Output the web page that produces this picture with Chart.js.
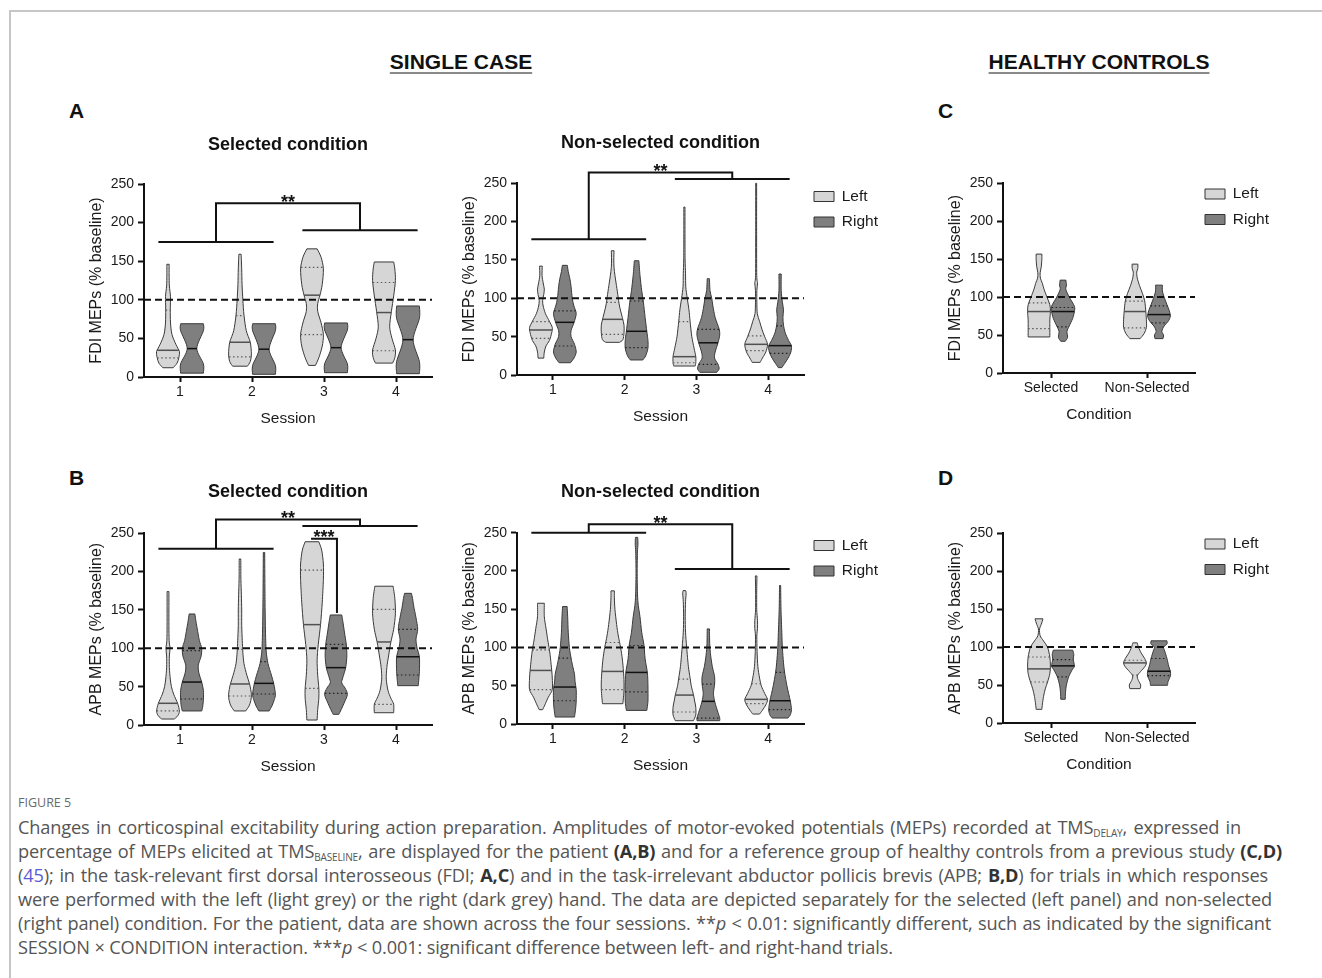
<!DOCTYPE html>
<html>
<head>
<meta charset="utf-8">
<script src="https://cdn.jsdelivr.net/npm/chart.js@4.4.1/dist/chart.umd.min.js"></script>
<style>
  body { margin: 0; background: #fff; }
  #page { position: relative; width: 1322px; height: 978px; overflow: hidden; font-family: "Liberation Sans", Arial, sans-serif; color: #111; }
  .frame-top { position: absolute; left: 9px; top: 10px; width: 1313px; border-top: 2px solid #c6c6c6; }
  .frame-left { position: absolute; left: 9px; top: 10px; height: 968px; border-left: 2px solid #c6c6c6; }
  .head { position: absolute; top: 50px; font-weight: bold; font-size: 21px; line-height: 24px; white-space: nowrap;
          transform: translateX(-50%); text-decoration: underline; text-decoration-thickness: 2px;
          text-underline-offset: 3px; text-decoration-color: #8a8a8a; }
  .letter { position: absolute; font-weight: bold; font-size: 21px; line-height: 24px; }
  canvas { position: absolute; }
  .fig { position: absolute; left: 18px; top: 794px; font-family: "Open Sans", sans-serif; font-size: 12.5px; color: #6a6a6a; }
  .cap { position: absolute; left: 18px; top: 815px; font-family: "Open Sans", sans-serif; font-size: 18.2px; line-height: 24px; color: #555; letter-spacing: -0.15px; }
  .cap div { white-space: nowrap; text-align: justify; text-align-last: justify; }
  .cap b { color: #333; }
  .cap sub { font-size: 10px; vertical-align: -3px; line-height: 0; }
  .cap a { color: #5b5bd6; text-decoration: none; }
</style>
</head>
<body>
<div id="page">
  <div class="frame-top"></div>
  <div class="frame-left"></div>

  <div class="head" style="left:461px">SINGLE CASE</div>
  <div class="head" style="left:1099px">HEALTHY CONTROLS</div>
  <div class="letter" style="left:69px;top:99px">A</div>
  <div class="letter" style="left:69px;top:466px">B</div>
  <div class="letter" style="left:938px;top:99px">C</div>
  <div class="letter" style="left:938px;top:466px">D</div>

  <canvas id="fdiSel" width="356" height="312" style="left:80px;top:120px"></canvas>
  <canvas id="fdiNon" width="431" height="310" style="left:453px;top:120px"></canvas>
  <canvas id="hcFdi" width="336" height="308" style="left:939px;top:120px"></canvas>
  <canvas id="apbSel" width="356" height="310" style="left:80px;top:470px"></canvas>
  <canvas id="apbNon" width="431" height="309" style="left:453px;top:470px"></canvas>
  <canvas id="hcApb" width="336" height="308" style="left:939px;top:470px"></canvas>

  <div class="fig">FIGURE 5</div>
  <div class="cap">
    <div style="width:1223px">Changes in corticospinal excitability during action preparation. Amplitudes of motor-evoked potentials (MEPs) recorded at TMS<sub>DELAY</sub>, expressed in</div>
    <div style="width:1264px">percentage of MEPs elicited at TMS<sub>BASELINE</sub>, are displayed for the patient <b>(A,B)</b> and for a reference group of healthy controls from a previous study <b>(C,D)</b></div>
    <div style="width:1250px">(<a>45</a>); in the task-relevant first dorsal interosseous (FDI; <b>A,C</b>) and in the task-irrelevant abductor pollicis brevis (APB; <b>B,D</b>) for trials in which responses</div>
    <div style="width:1254px">were performed with the left (light grey) or the right (dark grey) hand. The data are depicted separately for the selected (left panel) and non-selected</div>
    <div style="width:1253px">(right panel) condition. For the patient, data are shown across the four sessions. **<i>p</i> &lt; 0.01: significantly different, such as indicated by the significant</div>
    <div style="text-align:left;text-align-last:left">SESSION × CONDITION interaction. ***<i>p</i> &lt; 0.001: significant difference between left- and right-hand trials.</div>
  </div>
</div>

<script>
// categories
const sessions = ['1', '2', '3', '4'];
const conditions = ['Selected', 'Non-Selected'];

// violin outlines: [value, relative half-width] from bottom to top, one per category
// stats: [Q1, median, Q3] (null where no line is drawn)

// A - FDI, selected condition
const fdiSelLeft = [
  [[12,.45],[18,.8],[25,.95],[33,1],[42,.7],[55,.35],[70,.22],[88,.2],[104,.22],[118,.12],[132,.1],[146,.1]],
  [[14,.65],[20,.9],[30,1],[45,.9],[60,.55],[80,.35],[100,.25],[120,.18],[140,.15],[159,.1]],
  [[15,.3],[25,.6],[40,.9],[55,1],[70,.8],[85,.5],[95,.5],[106,.7],[120,.9],[140,1],[155,.8],[166,.45]],
  [[18,.75],[25,.95],[35,1],[50,.7],[65,.5],[85,.65],[105,.85],[125,1],[140,.95],[149,.85]]
];
const fdiSelRight = [
  [[5,1],[17,1],[37,.42],[60,1],[69,1]],
  [[3.5,1],[15,1],[36,.45],[60,1],[69,1]],
  [[5.6,1],[17,1],[38,.45],[61,1],[70,1]],
  [[4.3,1],[20,1],[48,.45],[76,1],[92,1]]
];
const fdiSelLeftStats = [[24.7,34.6,86.5],[26,45,79.6],[55,106,141.9],[34,83.5,122.4]];
const fdiSelRightStats = [[null,36.8,null],[null,36,null],[null,38,null],[null,48.4,null]];

// A - FDI, non-selected condition
const fdiNonLeft = [
  [[22,.25],[30,.3],[38,.45],[45,.75],[55,.95],[62,1],[70,.75],[80,.4],[90,.2],[97,.15],[105,.25],[112,.3],[120,.2],[130,.1],[142,.12]],
  [[42.6,.6],[46,.9],[55,1],[65,1],[75,.85],[90,.6],[105,.45],[120,.3],[130,.2],[140,.12],[150,.1],[162,.12]],
  [[11.7,.95],[16,1],[24,1],[35,.85],[50,.65],[70,.5],[85,.4],[100,.25],[115,.12],[132,.1],[150,.06],[180,.05],[219,.05]],
  [[16.5,.35],[22,.55],[30,.85],[40,1],[50,.75],[60,.5],[70,.3],[80,.1],[95,.06],[110,.06],[120,.12],[130,.05],[180,.04],[250,.04]]
];
const fdiNonRight = [
  [[16,.5],[22,.8],[30,1],[40,.85],[50,.55],[58,.55],[68,.8],[80,1],[90,.8],[100,.65],[115,.55],[125,.45],[135,.3],[143,.22]],
  [[19.6,.55],[25,.8],[35,1],[45,1],[57,.9],[75,.75],[95,.6],[110,.45],[130,.3],[149,.2]],
  [[3.5,.75],[8,.95],[14,.85],[22,.55],[30,.6],[42,.85],[52,1],[60,.95],[75,.6],[90,.4],[100,.3],[110,.15],[125.6,.1]],
  [[9.6,.15],[15,.4],[22,.7],[30,.95],[38,1],[45,.75],[55,.45],[65,.3],[75,.25],[85,.3],[95,.2],[110,.1],[131.7,.1]]
];
const fdiNonLeftStats = [[47.8,58.7,69.6],[53,72.6,94.8],[16,23.9,69.6],[31.7,40,51]];
const fdiNonRightStats = [[37.8,68.7,83.5],[35.7,57,96.5],[13.9,42,59.6],[28.3,38.3,64]];

// C - FDI, healthy controls
const hcFdiLeft = [
  [[47.5,.95],[60,.95],[70,.95],[81,1],[90,.95],[100,.7],[110,.45],[118,.3],[125,.12],[132,.1],[140,.2],[150,.25],[156.7,.25]],
  [[45.3,.45],[52,.8],[60,1],[70,1],[81,.95],[95,.85],[105,.65],[115,.4],[125,.2],[133,.15],[138,.25],[143.5,.25]]
];
const hcFdiRight = [
  [[41.8,.2],[47,.4],[55,.35],[62,.55],[72,.85],[81,1],[88,1],[100,.55],[110,.25],[116,.3],[122.4,.25]],
  [[45.3,.35],[50,.4],[55,.25],[62,.45],[68,.8],[75,1],[82,.9],[90,.7],[100,.45],[108,.3],[115.8,.3]]
];
const hcFdiLeftStats = [[58.5,81,92.4],[59.4,81,94.6]];
const hcFdiRightStats = [[60.7,81,86.3],[66,77,88.5]];

// B - APB, selected condition
const apbSelLeft = [
  [[7.8,.55],[12,.85],[18,1],[28,.85],[40,.5],[50,.3],[60,.2],[75,.12],[90,.12],[100,.18],[110,.1],[130,.08],[150,.08],[174,.08]],
  [[18.3,.5],[25,.8],[32,.95],[40,1],[53,.85],[65,.6],[80,.35],[95,.25],[110,.2],[130,.15],[150,.15],[170,.12],[190,.08],[216.5,.07]],
  [[6.5,.45],[20,.5],[35,.6],[48,.6],[65,.5],[85,.45],[105,.55],[131,.75],[160,.9],[190,1],[210,1],[228,.85],[239,.6]],
  [[16,.85],[27,.85],[35,.6],[45,.35],[60,.2],[75,.25],[90,.4],[108,.6],[125,.85],[145,1],[165,.95],[181,.8]]
];
const apbSelRight = [
  [[18.3,.85],[25,.95],[34,1],[45,1],[56,.85],[68,.6],[78,.55],[90,.8],[100,.85],[110,.65],[122,.5],[135,.35],[144.8,.25]],
  [[18.3,.45],[25,.7],[33,.9],[40,1],[54,.85],[65,.65],[80,.35],[95,.2],[110,.15],[130,.12],[150,.1],[180,.08],[225,.06]],
  [[13.9,.25],[20,.45],[30,.75],[40,1],[48,.8],[55,.5],[62,.6],[75,.85],[90,.95],[105,.9],[120,.75],[135,.6],[143.5,.5]],
  [[51.3,.9],[60,.95],[70,1],[89,1],[100,.8],[112,.7],[125,.85],[140,.7],[155,.5],[165,.4],[171.7,.3]]
];
const apbSelLeftStats = [[18.3,28.3,100],[37.8,53.5,98.7],[47.8,130.9,202],[27,108.3,150.9]];
const apbSelRightStats = [[33.9,56,97],[40.4,54.3,82.6],[41.3,74.8,105.2],[65.2,89,124.8]];

// B - APB, non-selected condition
const apbNonLeft = [
  [[18.7,.15],[25,.35],[35,.65],[45,1],[60,1],[70,.95],[85,.85],[97,.75],[110,.6],[125,.45],[140,.3],[157.8,.3]],
  [[26.5,.9],[35,.95],[45,1],[55,1],[69,.95],[85,.85],[100,.7],[115,.5],[130,.35],[150,.2],[165,.15],[174,.15]],
  [[4.3,.8],[12,1],[22,1],[30,.9],[38,.8],[50,.6],[60,.5],[75,.35],[100,.2],[120,.1],[140,.07],[160,.1],[170,.15],[174.3,.12]],
  [[13,.3],[18,.55],[25,.85],[32,1],[40,.75],[50,.45],[60,.3],[75,.15],[95,.08],[115,.06],[125,.12],[135,.12],[150,.05],[175,.05],[193.5,.07]]
];
const apbNonRight = [
  [[9.1,.85],[20,.95],[30,1],[45,1],[55,.9],[65,.85],[75,.7],[86,.55],[100,.4],[120,.3],[140,.25],[153.5,.2]],
  [[17.8,.9],[30,1],[50,1],[67,.95],[85,.75],[103,.65],[120,.45],[140,.3],[155,.15],[170,.08],[200,.05],[225,.08],[235,.12],[243.9,.1]],
  [[4.3,1],[8,1],[15,.85],[22,.7],[30,.55],[40,.45],[52,.55],[62,.55],[75,.35],[90,.2],[105,.12],[124.3,.1]],
  [[7.8,.7],[12,.9],[19,1],[30,.9],[40,.75],[50,.6],[67,.4],[80,.3],[100,.2],[120,.15],[150,.08],[181,.05]]
];
const apbNonLeftStats = [[44.8,70,97],[44.8,68.7,106.5],[15.7,37.8,58.7],[26.5,32.2,52.6]];
const apbNonRightStats = [[30.4,48.3,86],[42,67.4,102.6],[7.8,29.6,52.2],[18.7,30.4,67.4]];

// D - APB, healthy controls
const hcApbLeft = [
  [[18,.25],[25,.3],[35,.4],[45,.55],[54,.75],[65,.95],[75,1],[87,.95],[100,.75],[108,.4],[115,.1],[124,.05],[130,.2],[137.3,.35]],
  [[45.3,.45],[50,.5],[56,.3],[62,.2],[68,.5],[74,.85],[79,1],[85,.85],[92,.55],[100,.3],[105.6,.2]]
];
const hcApbRight = [
  [[31.3,.2],[40,.22],[50,.3],[61,.5],[70,.8],[75,1],[84,.9],[90,.95],[96,.85]],
  [[49.7,.75],[55,.8],[62,1],[68,1],[75,.85],[85,.7],[95,.5],[100,.4],[104,.7],[108.3,.7]]
];
const hcApbLeftStats = [[54,71.3,87],[63,79.2,82.7]];
const hcApbRightStats = [[60.7,75.3,83.6],[62.5,68.2,85]];

// significance brackets as polylines in [category index, value]
const fdiSelBrackets = [[[-0.3,175],[1.3,175]], [[1.7,190],[3.3,190]], [[0.5,175],[0.5,225],[2.5,225],[2.5,190]]];
const fdiSelStars = [[1.5,225,'**']];
const fdiNonBrackets = [[[-0.3,177],[1.3,177]], [[1.7,255.5],[3.3,255.5]], [[0.5,177],[0.5,264],[2.5,264],[2.5,255.5]]];
const fdiNonStars = [[1.5,264,'**']];
const apbSelBrackets = [[[-0.3,230],[1.3,230]], [[1.7,259.5],[3.3,259.5]], [[0.5,230],[0.5,268],[2.5,268],[2.5,259.5]],
                        [[1.82,243],[2.18,243],[2.18,146]]];
const apbSelStars = [[1.5,268,'**'], [2.0,243,'***']];
const apbNonBrackets = [[[-0.3,250],[1.3,250]], [[1.7,202.6],[3.3,202.6]], [[0.5,250],[0.5,261],[2.5,261],[2.5,202.6]]];
const apbNonStars = [[1.5,261,'**']];

const baseline = 100;
const LIGHT = '#d6d6d6';
const DARK = '#7f7f7f';

Chart.defaults.font.family = '"Liberation Sans", Arial, sans-serif';
Chart.defaults.color = '#1a1a1a';

function curveThrough(ctx, pts) {
  for (let i = 0; i < pts.length - 1; i++) {
    const p0 = pts[Math.max(i - 1, 0)], p1 = pts[i], p2 = pts[i + 1], p3 = pts[Math.min(i + 2, pts.length - 1)];
    ctx.bezierCurveTo(p1.x + (p2.x - p0.x) / 7, p1.y + (p2.y - p0.y) / 7,
                      p2.x - (p3.x - p1.x) / 7, p2.y - (p3.y - p1.y) / 7, p2.x, p2.y);
  }
}

function widthAt(prof, v) {
  for (let i = 0; i < prof.length - 1; i++) {
    const [a, wa] = prof[i], [b, wb] = prof[i + 1];
    if (v >= a && v <= b) return wa + (wb - wa) * (v - a) / (b - a);
  }
  return prof[v < prof[0][0] ? 0 : prof.length - 1][1];
}

const violinPlugin = {
  id: 'violins',
  beforeDatasetDraw() { return false; },
  afterDatasetsDraw(chart, args, opts) {
    const { ctx, chartArea, scales: { x, y } } = chart;
    ctx.save();
    chart.data.datasets.forEach((ds, d) => {
      const meta = chart.getDatasetMeta(d);
      meta.data.forEach((bar, i) => {
        const prof = ds.profiles[i];
        const cx = bar.x;
        const half = bar.width / 2 * opts.spread;
        const rightPts = prof.map(([v, w]) => ({ x: cx + w * half, y: y.getPixelForValue(v) }));
        const leftPts = prof.map(([v, w]) => ({ x: cx - w * half, y: y.getPixelForValue(v) })).reverse();
        ctx.beginPath();
        ctx.moveTo(rightPts[0].x, rightPts[0].y);
        curveThrough(ctx, rightPts);
        ctx.lineTo(leftPts[0].x, leftPts[0].y);
        curveThrough(ctx, leftPts);
        ctx.closePath();
        ctx.fillStyle = ds.backgroundColor;
        ctx.fill();
        ctx.setLineDash([]);
        ctx.lineWidth = 1;
        ctx.strokeStyle = '#3a3a3a';
        ctx.stroke();

        // quartiles dotted, median solid
        ds.stats[i].forEach((v, k) => {
          if (v === null) return;
          const w = widthAt(prof, v) * half;
          const py = y.getPixelForValue(v);
          ctx.beginPath();
          ctx.moveTo(cx - w, py);
          ctx.lineTo(cx + w, py);
          if (k === 1) {
            ctx.setLineDash([]);
            ctx.lineWidth = 1.5;
            ctx.strokeStyle = ds.medianColor;
          } else {
            ctx.setLineDash([1.5, 2.5]);
            ctx.lineWidth = 1.2;
            ctx.strokeStyle = ds.quartColor;
          }
          ctx.stroke();
        });
      });
    });

    // baseline reference
    ctx.setLineDash([7, 4]);
    ctx.lineWidth = 2;
    ctx.strokeStyle = '#111';
    ctx.beginPath();
    const yb = y.getPixelForValue(baseline);
    ctx.moveTo(chartArea.left, yb);
    ctx.lineTo(chartArea.right, yb);
    ctx.stroke();

    // significance brackets
    ctx.setLineDash([]);
    (opts.brackets || []).forEach(line => {
      ctx.beginPath();
      line.forEach(([c, v], k) => {
        const px = x.getPixelForValue(c), py = y.getPixelForValue(v);
        if (k === 0) ctx.moveTo(px, py); else ctx.lineTo(px, py);
      });
      ctx.stroke();
    });
    ctx.fillStyle = '#111';
    ctx.font = 'bold 18px "Liberation Sans", Arial, sans-serif';
    ctx.textAlign = 'center';
    ctx.textBaseline = 'alphabetic';
    (opts.stars || []).forEach(([c, v, txt]) => {
      ctx.fillText(txt, x.getPixelForValue(c), y.getPixelForValue(v) + 4.5);
    });
    ctx.restore();
  }
};

function violinChart(id, o) {
  const bounds = p => [p[0][0], p[p.length - 1][0]];
  return new Chart(document.getElementById(id), {
    type: 'bar',
    data: {
      labels: o.labels,
      datasets: [
        { label: 'Left', data: o.left.map(bounds), profiles: o.left, stats: o.leftStats,
          backgroundColor: LIGHT, borderColor: '#333', borderWidth: 1, medianColor: '#505050', quartColor: '#5a5a5a' },
        { label: 'Right', data: o.right.map(bounds), profiles: o.right, stats: o.rightStats,
          backgroundColor: DARK, borderColor: '#333', borderWidth: 1, medianColor: '#111', quartColor: '#222' }
      ]
    },
    options: {
      responsive: false,
      animation: false,
      events: [],
      datasets: { bar: { categoryPercentage: o.catPct, barPercentage: 1 } },
      layout: { padding: { right: o.legendTop ? 0 : 4 } },
      plugins: {
        tooltip: { enabled: false },
        title: {
          display: true, text: o.title, fullSize: false, color: '#111',
          font: { size: 18, weight: 'bold', lineHeight: 1.2 },
          padding: { top: o.titlePad[0], bottom: o.titlePad[1] }
        },
        legend: o.legendTop ? {
          display: true, position: 'right', align: 'start', maxWidth: 80,
          title: { display: true, text: '', font: { size: 10, lineHeight: 1.2 }, padding: { top: o.legendTop - 12, bottom: 0 } },
          labels: { boxWidth: 20, boxHeight: 10, padding: 10, color: '#1a1a1a', font: { size: 15.5 } }
        } : { display: false },
        violins: { spread: 0.95, brackets: o.brackets, stars: o.stars }
      },
      scales: {
        x: {
          afterFit: s => { s.height = 55; },
          grid: { offset: false, drawOnChartArea: false, tickLength: 5, tickWidth: 2, tickColor: '#111' },
          border: { color: '#111', width: 2 },
          ticks: { padding: 2, color: '#1a1a1a', font: { size: 14 } },
          title: { display: true, text: o.xTitle, color: '#1a1a1a', font: { size: 15.5 }, padding: { top: 0, bottom: 4.4 } }
        },
        y: {
          min: 0, max: 250,
          afterFit: s => { s.width = 64; },
          grid: { drawOnChartArea: false, tickLength: 6, tickWidth: 2, tickColor: '#111' },
          border: { color: '#111', width: 2 },
          ticks: { stepSize: 25, padding: 4, color: '#1a1a1a', font: { size: 14 },
                   callback: v => (v % 50 === 0 ? v : '') },
          title: { display: true, text: o.yTitle, color: '#1a1a1a', font: { size: 16 }, padding: { top: 7, bottom: 0 } }
        }
      }
    },
    plugins: [violinPlugin]
  });
}

violinChart('fdiSel', {
  labels: sessions, left: fdiSelLeft, right: fdiSelRight, leftStats: fdiSelLeftStats, rightStats: fdiSelRightStats,
  title: 'Selected condition', titlePad: [14.2, 28.2], catPct: 0.667,
  xTitle: 'Session', yTitle: 'FDI MEPs (% baseline)', brackets: fdiSelBrackets, stars: fdiSelStars
});
violinChart('fdiNon', {
  labels: sessions, left: fdiNonLeft, right: fdiNonRight, leftStats: fdiNonLeftStats, rightStats: fdiNonRightStats,
  title: 'Non-selected condition', titlePad: [12.5, 29.2], catPct: 0.667, legendTop: 58.75,
  xTitle: 'Session', yTitle: 'FDI MEPs (% baseline)', brackets: fdiNonBrackets, stars: fdiNonStars
});
violinChart('hcFdi', {
  labels: conditions, left: hcFdiLeft, right: hcFdiRight, leftStats: hcFdiLeftStats, rightStats: hcFdiRightStats,
  title: '', titlePad: [12.5, 29.2], catPct: 0.5, legendTop: 56.25,
  xTitle: 'Condition', yTitle: 'FDI MEPs (% baseline)'
});
violinChart('apbSel', {
  labels: sessions, left: apbSelLeft, right: apbSelRight, leftStats: apbSelLeftStats, rightStats: apbSelRightStats,
  title: 'Selected condition', titlePad: [10.9, 30.8], catPct: 0.667,
  xTitle: 'Session', yTitle: 'APB MEPs (% baseline)', brackets: apbSelBrackets, stars: apbSelStars
});
violinChart('apbNon', {
  labels: sessions, left: apbNonLeft, right: apbNonRight, leftStats: apbNonLeftStats, rightStats: apbNonRightStats,
  title: 'Non-selected condition', titlePad: [10.9, 30.2], catPct: 0.667, legendTop: 57.75,
  xTitle: 'Session', yTitle: 'APB MEPs (% baseline)', brackets: apbNonBrackets, stars: apbNonStars
});
violinChart('hcApb', {
  labels: conditions, left: hcApbLeft, right: hcApbRight, leftStats: hcApbLeftStats, rightStats: hcApbRightStats,
  title: '', titlePad: [10.9, 30.8], catPct: 0.5, legendTop: 56.25,
  xTitle: 'Condition', yTitle: 'APB MEPs (% baseline)'
});
</script>
</body>
</html>
